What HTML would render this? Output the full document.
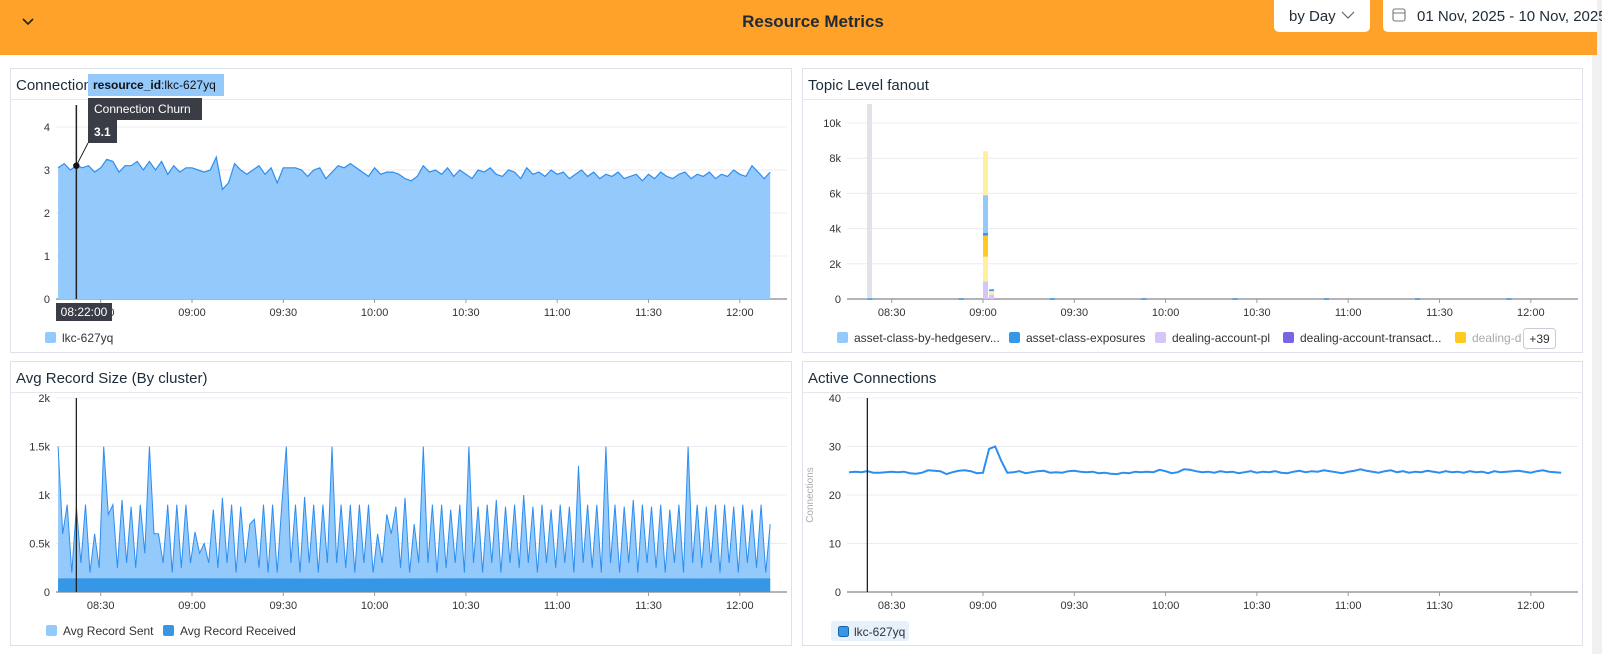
<!DOCTYPE html>
<html><head><meta charset="utf-8">
<style>
html,body{margin:0;padding:0;width:1602px;height:654px;overflow:hidden;background:#fff;font-family:"Liberation Sans","DejaVu Sans",sans-serif;}
svg text{font-family:"Liberation Sans","DejaVu Sans",sans-serif;}
</style></head>
<body>
<svg id="root" width="1602" height="654" xmlns="http://www.w3.org/2000/svg">
  <rect x="1592" y="0" width="10" height="654" fill="#f0f0f3"/>
  <g>
    <rect x="0" y="0" width="1597" height="55" fill="#FFA229"/>
    <path d="M23 19 L28 24 L33 19" fill="none" stroke="#222" stroke-width="1.6"/>
    <text x="813" y="27" text-anchor="middle" font-size="17" font-weight="bold" fill="#1f2a37">Resource Metrics</text>
    <g>
      <path d="M1274 0 H1370 V27 a5 5 0 0 1 -5 5 H1279 a5 5 0 0 1 -5 -5 Z" fill="#fff"/>
      <text x="1289" y="21" font-size="15" fill="#1f2a37">by Day</text>
      <path d="M1342 12 L1348 18 L1354 12" fill="none" stroke="#666" stroke-width="1.2"/>
    </g>
    <g>
      <path d="M1383 0 H1597 V32 H1388 a5 5 0 0 1 -5 -5 Z" fill="#fff"/>
      <rect x="1393" y="9" width="12" height="12" rx="2" fill="none" stroke="#777" stroke-width="1.1"/>
      <line x1="1393" y1="13" x2="1405" y2="13" stroke="#777"/>
      <text x="1417" y="21" font-size="15" fill="#1f2a37">01 Nov, 2025 - 10 Nov, 2025</text>
    </g>
  </g>

  <g>
    <rect x="10.5" y="68.5" width="781" height="284" fill="#fff" stroke="#dfe1ea"/>
    <line x1="10" y1="99.5" x2="792" y2="99.5" stroke="#e6e7ee"/>
    <text x="16" y="90" font-size="15" fill="#1c2b39">Connection Churn</text>
    <g id="c1"></g>
  </g>
  <g>
    <rect x="802.5" y="68.5" width="780" height="284" fill="#fff" stroke="#dfe1ea"/>
    <line x1="802" y1="99.5" x2="1583" y2="99.5" stroke="#e6e7ee"/>
    <text x="808" y="90" font-size="15" fill="#1c2b39">Topic Level fanout</text>
    <g id="c2"></g>
  </g>
  <g>
    <rect x="10.5" y="361.5" width="781" height="284" fill="#fff" stroke="#dfe1ea"/>
    <line x1="10" y1="392.5" x2="792" y2="392.5" stroke="#e6e7ee"/>
    <text x="16" y="383" font-size="15" fill="#1c2b39">Avg Record Size (By cluster)</text>
    <g id="c3"></g>
  </g>
  <g>
    <rect x="802.5" y="361.5" width="780" height="284" fill="#fff" stroke="#dfe1ea"/>
    <line x1="802" y1="392.5" x2="1583" y2="392.5" stroke="#e6e7ee"/>
    <text x="808" y="383" font-size="15" fill="#1c2b39">Active Connections</text>
    <g id="c4"></g>
  </g>
</svg>
<script>
// ---------- data (minutes since 08:00) ----------
const timeTicks = [30, 60, 90, 120, 150, 180, 210, 240];
const timeTickLabels = ["08:30","09:00","09:30","10:00","10:30","11:00","11:30","12:00"];

const churnStart = 16, churnStep = 2;
const churnValues = [3.05,3.15,3.0,3.1,3.05,3.1,2.95,3.05,3.25,3.2,2.95,3.1,3.1,3.2,3.0,3.2,3.0,3.2,2.9,3.1,
 2.95,3.05,3.05,3.0,2.95,3.0,3.3,2.55,2.7,3.15,3.0,2.9,3.0,3.1,2.9,3.05,2.7,3.05,3.05,3.05,
 3.0,2.85,3.0,3.05,2.8,2.95,3.1,3.05,3.15,3.05,2.95,2.85,3.05,2.9,2.95,2.95,2.9,2.8,2.75,2.85,
 3.1,2.95,3.0,2.9,3.05,2.85,3.0,2.9,2.8,3.0,2.95,3.05,2.9,2.85,3.0,2.95,2.8,3.05,2.9,2.95,
 2.85,3.0,2.9,2.95,2.8,2.9,3.0,2.85,2.95,2.8,2.9,2.85,2.95,2.8,2.85,2.9,2.75,2.9,2.8,2.95,
 2.85,2.8,2.9,2.95,2.8,2.9,2.85,2.95,2.8,2.9,2.85,3.0,2.9,2.85,3.1,2.95,2.8,2.95];
const churnYTicks = [0,1,2,3,4];

const fanoutBins = [22,52,60,62,82,112,142,172,202,232];
const fanoutPl = [0,0,1000,250,0,0,0,0,0,0];
const fanoutOtherA = [0,0,1400,200,0,0,0,0,0,0];
const fanoutDealingD = [0,0,1200,0,0,0,0,0,0,0];
const fanoutExposures = [40,40,150,100,40,40,40,40,40,40];
const fanoutHedgeserv = [0,0,2150,0,0,0,0,0,0,0];
const fanoutOtherB = [0,0,2500,0,0,0,0,0,0,0];
const fanoutYTicks = [0,2000,4000,6000,8000,10000];
const fanoutYLabels = ["0","2k","4k","6k","8k","10k"];

const recStart = 16, recStep = 1.5;
const recSent = [1500,600,900,200,880,300,900,200,600,250, 1500,800,900,250,950,300,880,250,900,400,
 1500,600,600,300,900,200,900,250,900,300, 620,400,500,300,850,250,970,300,900,200,
 880,300,700,750,250,900,200,900,200,900, 1500,300,900,200,980,300,900,200,900,300,
 1500,300,900,250,900,200,900,300,900,200, 600,300,800,600,880,250,970,200,700,300,
 1500,300,900,200,900,250,850,300,900,200, 1500,300,880,200,900,300,950,200,880,300,
 900,250,1000,300,880,200,900,300,850,250, 900,300,880,200,1300,300,900,250,900,200,
 1500,300,900,200,880,300,950,200,900,300, 880,250,900,200,850,300,900,200,1500,300,
 900,250,880,300,900,200,900,300,880,200, 900,300,850,250,900,200,700];
const recReceivedTimes = [16,46,76,106,136,166,196,226,250];
const recReceived = [140,142,140,138,140,141,140,139,140];
const recYTicks = [0,500,1000,1500,2000];
const recYLabels = ["0","0.5k","1k","1.5k","2k"];

const connStart = 16, connStep = 2;
const connValues = [24.7,24.8,24.7,24.9,24.6,24.6,24.7,24.8,24.7,24.8,24.5,24.4,24.6,25.1,25.0,24.9,24.3,24.7,25.0,25.1,
 24.9,24.5,24.6,29.5,30.0,27.0,24.6,24.7,24.9,24.5,24.7,24.9,25.0,24.6,24.7,24.6,24.9,25.0,24.8,24.7,
 24.8,24.5,24.6,24.4,24.3,24.6,24.5,24.8,24.7,24.8,24.7,25.2,24.9,24.5,24.7,25.3,25.2,24.9,24.7,24.8,
 24.6,24.9,24.7,24.8,24.5,24.7,24.9,24.6,24.8,24.7,24.9,24.6,24.5,24.8,25.0,24.7,24.9,24.8,25.1,24.9,
 24.7,24.5,24.8,25.0,25.3,25.0,24.8,24.6,24.9,25.1,24.7,24.9,24.6,24.8,24.7,25.0,24.8,24.6,24.9,24.7,
 24.8,24.6,24.9,24.7,24.8,24.5,24.9,24.7,24.8,24.9,25.0,24.8,24.6,24.9,25.1,24.8,24.7,24.6];
const connYTicks = [0,10,20,30,40];

// ---------- helpers ----------
const NS = "http://www.w3.org/2000/svg";
function mk(parent, tag, attrs, text){
  const e = document.createElementNS(NS, tag);
  for (const k in attrs) e.setAttribute(k, attrs[k]);
  if (text !== undefined) e.textContent = text;
  parent.appendChild(e);
  return e;
}
function timeScale(x0Px){ return m => x0Px + (m - 60) * 91.3 / 30; }
function linScale(d0,d1,r0,r1){ return v => r0 + (v-d0)/(d1-d0)*(r1-r0); }

function drawAxes(g, xs, ys, left, right, bottom, yTicks, yLabels, gridTo){
  yTicks.forEach((t,i)=>{
    const y = ys(t);
    if (t !== 0) {
      const gl = mk(g,'line',{x1:left,x2:gridTo,y1:y,y2:y,stroke:'#ececf0'});
      
      
    }
    const tl = mk(g,'text',{x:left-6,y:y+4,'text-anchor':'end','font-size':11,fill:'#333'}, yLabels[i]);
    
    
  });
  const ax = mk(g,'line',{x1:left,x2:right,y1:bottom,y2:bottom,stroke:'#9a9aa2','stroke-width':1.5});
  
  
  timeTicks.forEach((t,i)=>{
    const x = xs(t);
    mk(g,'line',{x1:x,x2:x,y1:bottom,y2:bottom+4,stroke:'#9a9aa2'});
    const tl = mk(g,'text',{x:x,y:bottom+17,'text-anchor':'middle','font-size':11,fill:'#333'}, timeTickLabels[i]);
    
    
  });
}
function legendItem(g, x, y, color, label, name, faded){
  const it = mk(g,'g',{});
  
  
  mk(it,'rect',{x:x,y:y-6,width:11,height:11,rx:2,fill:color});
  mk(it,'text',{x:x+17,y:y+4,'font-size':12,fill:faded?'#aaa':'#333'}, label);
}

// ---------- chart 1 ----------
(function(){
  const g = document.getElementById('c1');
  const xs = timeScale(192), ys = linScale(0,4,299,127);
  drawAxes(g, xs, ys, 56, 787, 299, churnYTicks, churnYTicks.map(String), 787);
  let d = '', pts = [];
  churnValues.forEach((v,i)=>{ pts.push([xs(churnStart+i*churnStep), ys(v)]); });
  d = 'M'+pts[0][0]+' 299 ' + pts.map(p=>'L'+p[0].toFixed(1)+' '+p[1].toFixed(1)).join(' ') + ' L'+pts[pts.length-1][0].toFixed(1)+' 299 Z';
  const area = mk(g,'path',{d:d,fill:'#93c9fb'});
  
  
  const line = mk(g,'path',{d:'M'+pts.map(p=>p[0].toFixed(1)+' '+p[1].toFixed(1)).join(' L'),fill:'none',stroke:'#2d8ef0','stroke-width':1.2});
  
  
  // hover
  const hx = xs(22), hy = ys(3.1);
  const hv = mk(g,'g',{});
  
  
  mk(hv,'line',{x1:hx,x2:hx,y1:105,y2:299,stroke:'#222','stroke-width':1.5});
  mk(hv,'line',{x1:hx,x2:88,y1:hy,y2:143,stroke:'#222','stroke-width':1});
  mk(hv,'circle',{cx:hx,cy:hy,r:3.2,fill:'#111'});
  mk(hv,'rect',{x:88,y:74,width:136,height:22,fill:'#93c9fb'});
  const t1 = mk(hv,'text',{x:93,y:89,'font-size':12,fill:'#111'});
  mk(t1,'tspan',{'font-weight':'bold'},'resource_id');
  mk(t1,'tspan',{},':lkc-627yq');
  mk(hv,'rect',{x:88,y:98,width:114,height:22,fill:'#3a3d45'});
  mk(hv,'text',{x:94,y:113,'font-size':12,fill:'#fff'},'Connection Churn');
  mk(hv,'rect',{x:88,y:120,width:29,height:23,fill:'#3a3d45'});
  mk(hv,'text',{x:94,y:136,'font-size':12,'font-weight':'bold',fill:'#fff'},'3.1');
  mk(hv,'rect',{x:56,y:303,width:56,height:18,fill:'#3a3d45'});
  mk(hv,'text',{x:84,y:316,'font-size':12,'text-anchor':'middle',fill:'#fff'},'08:22:00');
  legendItem(g, 45, 338, '#93c9fb', 'lkc-627yq', 'legend-lkc-627yq');
})();

// ---------- chart 2 ----------
(function(){
  const g = document.getElementById('c2');
  const xs = timeScale(983), ys = linScale(0,10000,299,123);
  drawAxes(g, xs, ys, 847, 1578, 299, fanoutYTicks, fanoutYLabels, 1578);
  const hb = mk(g,'rect',{x:867,y:104,width:5,height:195,fill:'#e1e3ea'});
  
  
  const series = [
    [fanoutPl,'#d6c6f8','dealing-account-pl'],
    [fanoutOtherA,'#fff0a0','other-topic-a'],
    [fanoutDealingD,'#ffc91f','dealing-d'],
    [fanoutExposures,'#3597ea','asset-class-exposures'],
    [fanoutHedgeserv,'#93c9fb','asset-class-by-hedgeserv'],
    [fanoutOtherB,'#fff0a0','other-topic-b']];
  fanoutBins.forEach((b,i)=>{
    let acc = 0;
    series.forEach(s=>{
      const v = s[0][i];
      if (v<=0) return;
      const y0 = ys(acc), y1 = ys(acc+v);
      const r = mk(g,'rect',{x:xs(b),y:y1,width:5,height:Math.max(1.5,y0-y1),fill:s[1]});
      
      
      acc += v;
    });
  });
  legendItem(g, 837, 338, '#93c9fb', 'asset-class-by-hedgeserv...', 'legend-asset-class-by-hedgeserv');
  legendItem(g, 1009, 338, '#3597ea', 'asset-class-exposures', 'legend-asset-class-exposures');
  legendItem(g, 1155, 338, '#d6c6f8', 'dealing-account-pl', 'legend-dealing-account-pl');
  legendItem(g, 1283, 338, '#7a64e6', 'dealing-account-transact...', 'legend-dealing-account-transact');
  legendItem(g, 1455, 338, '#ffc91f', 'dealing-d', 'legend-dealing-d', true);
  const more = mk(g,'g',{});
  
  
  mk(more,'rect',{x:1523.5,y:328.5,width:32,height:20,rx:3,fill:'#fff',stroke:'#c9ccd6'});
  mk(more,'text',{x:1539.5,y:343,'font-size':12,'text-anchor':'middle',fill:'#333'},'+39');
})();

// ---------- chart 3 ----------
(function(){
  const g = document.getElementById('c3');
  const xs = timeScale(192), ys = linScale(0,2000,592,398);
  drawAxes(g, xs, ys, 56, 787, 592, recYTicks, recYLabels, 787);
  const pts = recSent.map((v,i)=>[xs(recStart+i*recStep), ys(v)]);
  const d = 'M'+pts[0][0]+' 592 ' + pts.map(p=>'L'+p[0].toFixed(1)+' '+p[1].toFixed(1)).join(' ') + ' L'+pts[pts.length-1][0].toFixed(1)+' 592 Z';
  const a = mk(g,'path',{d:d,fill:'#93c9fb'});
  
  
  const l = mk(g,'path',{d:'M'+pts.map(p=>p[0].toFixed(1)+' '+p[1].toFixed(1)).join(' L'),fill:'none',stroke:'#2d8ef0','stroke-width':1});
  
  
  const rp = recReceivedTimes.map((t,i)=>[xs(t), ys(recReceived[i])]);
  const rd = 'M'+rp[0][0]+' 592 ' + rp.map(p=>'L'+p[0].toFixed(1)+' '+p[1].toFixed(1)).join(' ') + ' L'+rp[rp.length-1][0].toFixed(1)+' 592 Z';
  const r = mk(g,'path',{d:rd,fill:'#3597e6'});
  
  
  const hl = mk(g,'line',{x1:xs(22),x2:xs(22),y1:398,y2:592,stroke:'#222','stroke-width':1.3});
  
  
  legendItem(g, 46, 631, '#93c9fb', 'Avg Record Sent', 'legend-avg-record-sent');
  legendItem(g, 163, 631, '#3597e6', 'Avg Record Received', 'legend-avg-record-received');
})();

// ---------- chart 4 ----------
(function(){
  const g = document.getElementById('c4');
  const xs = timeScale(983), ys = linScale(0,40,592,398);
  drawAxes(g, xs, ys, 847, 1578, 592, connYTicks, connYTicks.map(String), 1578);
  const yt = mk(g,'text',{x:0,y:0,'font-size':10,fill:'#aaa','text-anchor':'middle',transform:'translate(813 495) rotate(-90)'},'Connections');
  
  
  const pts = connValues.map((v,i)=>[xs(connStart+i*connStep), ys(v)]);
  const l = mk(g,'path',{d:'M'+pts.map(p=>p[0].toFixed(1)+' '+p[1].toFixed(1)).join(' L'),fill:'none',stroke:'#2d8ef0','stroke-width':2});
  
  
  const hl = mk(g,'line',{x1:xs(22),x2:xs(22),y1:398,y2:592,stroke:'#222','stroke-width':1.3});
  
  
  const lg = mk(g,'g',{});
  
  
  mk(lg,'rect',{x:831,y:621,width:78,height:20,rx:3,fill:'#e6f1fc'});
  mk(lg,'rect',{x:838.5,y:626.5,width:10,height:10,rx:2,fill:'#3597e6',stroke:'#1d5fa8'});
  mk(lg,'text',{x:854,y:636,'font-size':12,fill:'#333'},'lkc-627yq');
})();
</script>
</body></html>
